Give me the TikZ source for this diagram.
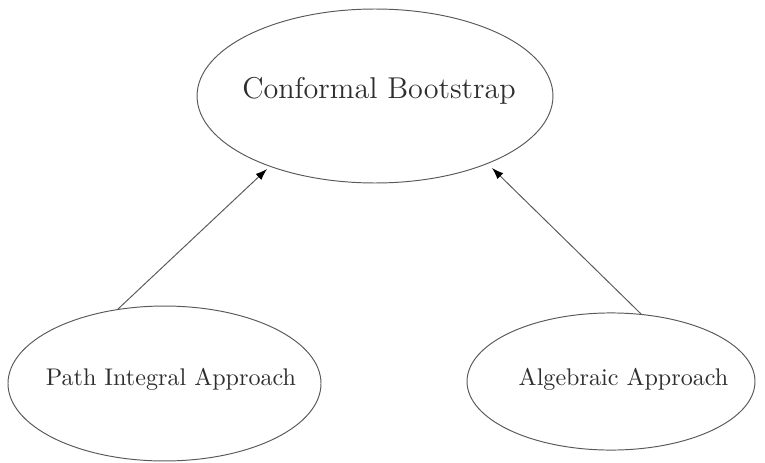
\documentclass[tikz,border=0pt]{standalone}
\usetikzlibrary{shapes.geometric,arrows.meta}
\begin{document}
\begin{tikzpicture}[x=0.415pt,y=-0.415pt,
  oval/.style={draw=black!65, line width=0.4pt, ellipse, inner sep=0pt},
  lbl/.style={text=black!82, inner sep=0pt},
  conn/.style={draw=black!65, line width=0.4pt, -{Latex[length=4.8pt,width=3.4pt,color=black]}}]
\useasboundingbox (0,0) rectangle (765,462);
\node[oval, minimum width=147.7pt, minimum height=72.2pt] (cb) at (375,96) {};
\node[oval, minimum width=129.9pt, minimum height=64.3pt] (pi) at (164.5,383.5) {};
\node[oval, minimum width=119.5pt, minimum height=56.9pt] (al) at (611,381.5) {};
\node[lbl, font=\fontsize{12.5}{15}\selectfont] (cbt) at (379,91) {Conformal Bootstrap};
\node[lbl] (pit) at (171,379) {Path Integral Approach};
\node[lbl] (alt) at (623.5,379) {Algebraic Approach};
\coordinate (tipL) at (267,169);
\coordinate (tipR) at (492,168);
\draw[conn] (pi.122) -- (tipL);
\draw[conn] (al.66) -- (tipR);
\end{tikzpicture}
\end{document}
